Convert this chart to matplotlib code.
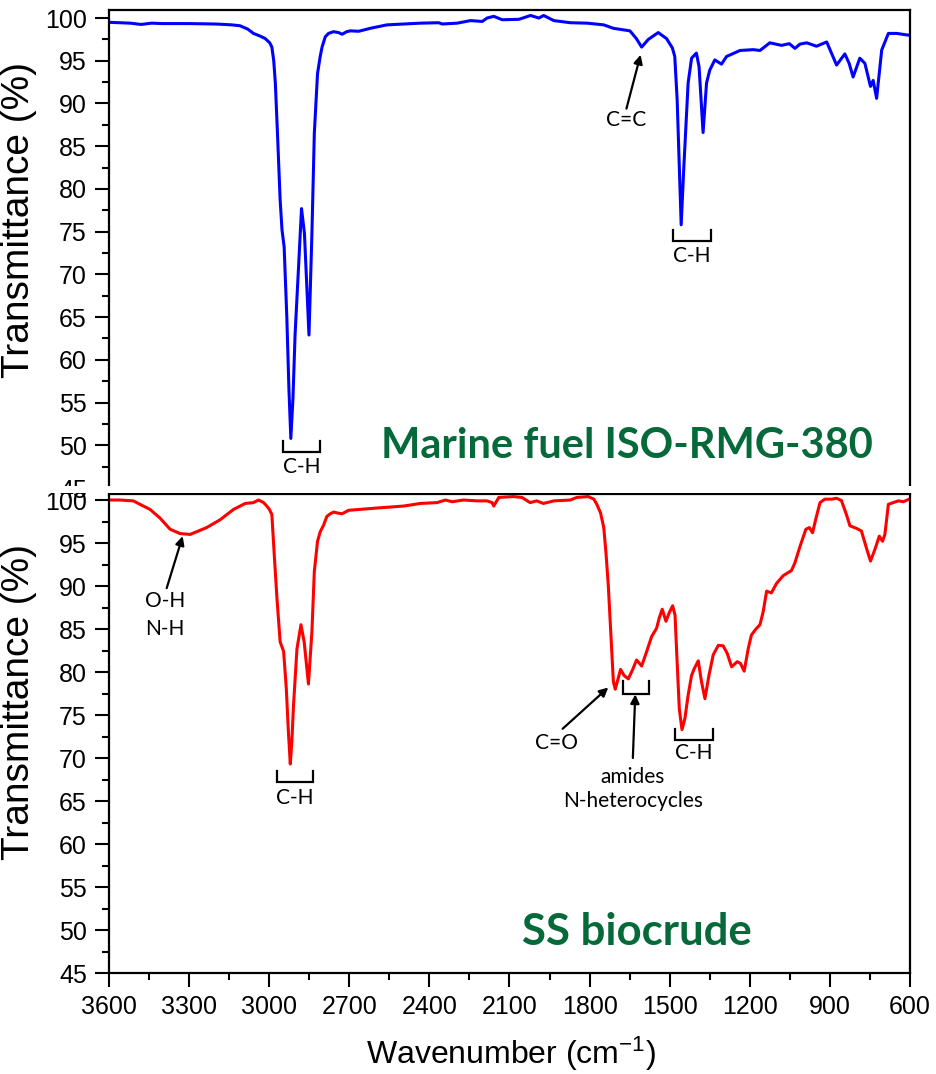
"""FTIR spectra: marine fuel ISO-RMG-380 vs SS biocrude (two stacked panels)."""

import matplotlib

matplotlib.use("Agg")
import matplotlib.pyplot as plt
from matplotlib.patches import Rectangle
from matplotlib.ticker import MultipleLocator

plt.rcParams["font.family"] = ["Liberation Sans", "DejaVu Sans"]
plt.rcParams["mathtext.default"] = "regular"

# --- Marine fuel ISO-RMG-380 ---
fuel_wn = [3600, 3560, 3520, 3480, 3440, 3400, 3300, 3200, 3140, 3110, 3080, 3059, 3035, 3015, 2998,
           2990, 2983, 2977, 2969, 2959, 2952, 2944, 2934, 2926, 2919, 2911, 2903, 2890, 2879, 2868,
           2851, 2840, 2831, 2819, 2809, 2802, 2790, 2778, 2759, 2740, 2727, 2710, 2696, 2665, 2621,
           2559, 2496, 2434, 2365, 2352, 2296, 2246, 2202, 2184, 2159, 2127, 2065, 2021, 1990, 1972,
           1934, 1872, 1809, 1747, 1711, 1649, 1625, 1605, 1580, 1543, 1512, 1490, 1481, 1472, 1464,
           1457, 1447, 1431, 1418, 1400, 1390, 1375, 1362, 1350, 1331, 1306, 1287, 1237, 1187, 1162,
           1125, 1081, 1052, 1031, 1012, 987, 950, 912, 875, 844, 828, 813, 788, 769, 748,
           738, 725, 706, 681, 650, 607, 600]
fuel_t = [99.5, 99.45, 99.4, 99.25, 99.4, 99.35, 99.35, 99.3, 99.2, 99.1, 98.7, 98.2, 97.9, 97.6, 97.1,
          96.6, 95.0, 92.4, 86.5, 78.7, 75.2, 73.2, 65.0, 56.5, 50.8, 55.5, 63.0, 70.9, 77.7, 74.8,
          62.9, 74.8, 86.5, 93.5, 95.5, 96.6, 97.8, 98.2, 98.4, 98.3, 98.1, 98.4, 98.5, 98.45, 98.8,
          99.2, 99.3, 99.4, 99.45, 99.3, 99.4, 99.7, 99.6, 100.0, 100.2, 99.8, 99.85, 100.3, 100.0, 100.3,
          99.7, 99.45, 99.4, 99.2, 98.8, 98.5, 97.6, 96.6, 97.5, 98.3, 97.6, 96.5, 95.5, 90.4, 82.6,
          75.8, 82.6, 92.4, 95.3, 95.9, 94.3, 86.6, 92.4, 93.9, 95.1, 94.6, 95.5, 96.2, 96.3, 96.2,
          97.1, 96.8, 97.0, 96.45, 96.95, 97.1, 96.7, 97.2, 94.5, 95.8, 94.7, 93.1, 95.3, 94.7, 92.0,
          92.7, 90.6, 96.25, 98.2, 98.2, 98.0, 98.0]

# --- SS biocrude ---
bio_wn = [3600, 3560, 3509, 3446, 3409, 3371, 3334, 3296, 3234, 3184, 3134, 3109, 3090, 3059, 3040,
          3021, 3009, 2999, 2990, 2981, 2971, 2959, 2946, 2936, 2928, 2921, 2915, 2909, 2896, 2881,
          2869, 2853, 2840, 2831, 2819, 2809, 2796, 2784, 2771, 2759, 2746, 2727, 2703, 2665, 2584,
          2496, 2434, 2371, 2340, 2315, 2272, 2222, 2184, 2165, 2159, 2140, 2086, 2053, 2023, 1998,
          1973, 1934, 1872, 1848, 1805, 1784, 1773, 1759, 1747, 1739, 1730, 1720, 1711, 1704, 1696,
          1684, 1671, 1655, 1640, 1624, 1605, 1586, 1568, 1549, 1539, 1528, 1514, 1501, 1489, 1480,
          1474, 1464, 1454, 1443, 1431, 1418, 1408, 1393, 1381, 1368, 1353, 1337, 1318, 1300, 1285,
          1268, 1247, 1235, 1221, 1206, 1194, 1177, 1162, 1150, 1137, 1119, 1100, 1075, 1044, 1031,
          1012, 990, 977, 965, 952, 937, 919, 894, 875, 857, 838, 825, 800, 782, 763,
          748, 732, 715, 703, 694, 681, 663, 644, 625, 603, 600]
bio_t = [100.0, 100.0, 99.9, 98.9, 97.9, 96.6, 96.1, 96.0, 96.8, 97.7, 98.9, 99.3, 99.6, 99.7, 100.0,
         99.7, 99.3, 98.9, 98.3, 93.6, 88.6, 83.5, 82.4, 78.1, 73.0, 69.3, 72.0, 76.1, 82.7, 85.5,
         83.5, 78.6, 84.7, 91.7, 95.2, 96.3, 97.1, 98.1, 98.4, 98.6, 98.5, 98.4, 98.8, 98.9, 99.1,
         99.3, 99.6, 99.7, 100.0, 99.8, 100.0, 99.9, 99.9, 99.7, 99.3, 100.3, 100.4, 100.3, 99.7, 99.9,
         99.6, 99.9, 100.0, 100.3, 100.4, 100.1, 99.5, 98.5, 96.8, 94.0, 90.1, 84.3, 78.9, 78.0, 78.9,
         80.3, 79.6, 79.2, 80.2, 81.4, 80.7, 82.4, 84.1, 85.1, 86.3, 87.3, 85.9, 86.95, 87.7, 86.6,
         82.4, 75.7, 73.3, 74.6, 77.3, 79.6, 80.4, 81.3, 78.9, 76.9, 79.6, 82.0, 83.1, 83.05, 82.2,
         80.6, 81.2, 81.0, 80.1, 82.7, 84.3, 85.0, 85.5, 87.0, 89.4, 89.2, 90.3, 91.2, 91.8, 92.7,
         94.6, 96.6, 96.8, 96.2, 97.9, 99.7, 100.1, 100.1, 100.2, 99.95, 98.3, 97.0, 96.7, 96.4, 94.4,
         92.9, 94.2, 95.8, 95.2, 96.0, 99.5, 99.7, 99.9, 99.8, 100.1, 100.1]

GREEN = "#05693a"
ANNO_FONT = ["Lato", "DejaVu Sans"]
ANNO_SIZE = 15


def style(ax, ylim):
    ax.set_xlim(3600, 600)
    ax.set_ylim(*ylim)
    ax.yaxis.set_major_locator(MultipleLocator(5))
    ax.yaxis.set_minor_locator(MultipleLocator(2.5))
    ax.xaxis.set_major_locator(MultipleLocator(300))
    ax.xaxis.set_minor_locator(MultipleLocator(150))
    ax.tick_params(which="major", direction="out", length=10, width=1.5, labelsize=18, pad=6)
    ax.tick_params(which="minor", direction="out", length=5, width=1.5)
    ax.tick_params(top=False, right=False)
    for s in ax.spines.values():
        s.set_linewidth(1.6)
    ax.set_ylabel("Transmittance (%)", fontsize=28)


def bracket(ax, x1, x2, ytop, ybot, label, ylab):
    ax.plot([x1, x1, x2, x2], [ytop, ybot, ybot, ytop], color="k", lw=1.6, solid_joinstyle="miter")
    ax.text((x1 + x2) / 2, ylab, label, ha="center", va="center", fontsize=ANNO_SIZE, family=ANNO_FONT)


def arrow(ax, head, tail):
    ax.annotate("", xy=head, xytext=tail,
                arrowprops=dict(arrowstyle="-|>", color="k", lw=1.6, mutation_scale=13, shrinkA=0, shrinkB=0))


fig = plt.figure(figsize=(9.36, 10.74), dpi=100)
ax1 = fig.add_axes([0.11645, 0.54562, 0.85577, 0.44507])
ax2 = fig.add_axes([0.11645, 0.09404, 0.85577, 0.44600])

# top panel
ax1.plot(fuel_wn, fuel_t, color="#0000ff", lw=2.2)
style(ax1, (45, 100.94))
ax1.spines["bottom"].set_visible(False)
ax1.tick_params(axis="x", which="both", bottom=False, labelbottom=False)
ax1.yaxis.set_label_coords(-0.09, 0.561)
bracket(ax1, 2950, 2809, 50.5, 49.2, "C-H", 47.4)
bracket(ax1, 1486, 1347, 75.2, 73.9, "C-H", 72.1)
arrow(ax1, (1609, 95.7), (1662, 89.4))
ax1.text(1665, 88.1, "C=C", ha="center", va="center", fontsize=ANNO_SIZE, family=ANNO_FONT)
ax1.text(0.6467, 0.0628, "Marine fuel ISO-RMG-380", transform=ax1.transAxes, ha="center",
         va="baseline", fontsize=30, fontweight="bold", color=GREEN, family=ANNO_FONT)

# bottom panel
ax2.plot(bio_wn, bio_t, color="#ff0000", lw=2.2)
style(ax2, (45, 100.7))
ax2.yaxis.set_label_coords(-0.09, 0.566)
ax2.set_xlabel("Wavenumber (cm$^{-1}$)", fontsize=23)
ax2.xaxis.set_label_coords(0.502, -0.128)
arrow(ax2, (3324, 95.8), (3384, 89.75))
ax2.text(3388, 88.2, "O-H", ha="center", va="center", fontsize=ANNO_SIZE, family=ANNO_FONT)
ax2.text(3392, 85.0, "N-H", ha="center", va="center", fontsize=ANNO_SIZE, family=ANNO_FONT)
bracket(ax2, 2972, 2835, 68.5, 67.2, "C-H", 65.4)
arrow(ax2, (1730, 78.2), (1901, 73.4))
ax2.text(1924, 71.8, "C=O", ha="center", va="center", fontsize=ANNO_SIZE, family=ANNO_FONT)
bracket(ax2, 1674, 1577, 78.9, 77.5, "", 77)
arrow(ax2, (1629, 77.4), (1638, 70.0))
ax2.text(1638, 67.8, "amides", ha="center", va="center", fontsize=ANNO_SIZE, family=ANNO_FONT)
ax2.text(1638, 65.0, "N-heterocycles", ha="center", va="center", fontsize=ANNO_SIZE, family=ANNO_FONT)
bracket(ax2, 1479, 1339, 73.4, 72.1, "C-H", 70.6)
ax2.text(0.659, 0.0585, "SS biocrude", transform=ax2.transAxes, ha="center",
         va="baseline", fontsize=31.5, fontweight="bold", color=GREEN, family=ANNO_FONT)

# the source is a stacked composite: the top panel is cut just below its 45 tick
fig.patches.append(Rectangle((0, 1 - 493 / 1074), 1, 7 / 1074, transform=fig.transFigure,
                             facecolor="white", edgecolor="none", zorder=5))

fig.savefig("out.png", dpi=100)
